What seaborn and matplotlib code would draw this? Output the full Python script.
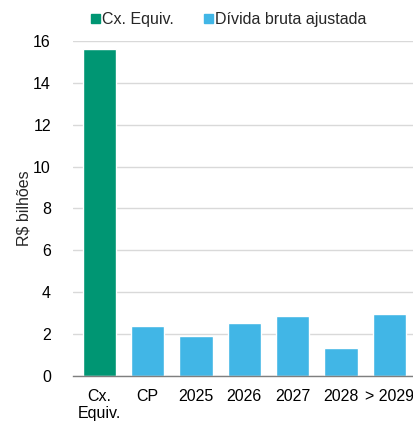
import pandas as pd
import matplotlib.pyplot as plt
import seaborn as sns
from matplotlib.patches import Patch

categories = ['Cx.\nEquiv.', 'CP', '2025', '2026', '2027', '2028', '> 2029']
values = [15.6, 2.37, 1.92, 2.53, 2.86, 1.33, 2.95]
groups = ['Cx. Equiv.', 'Dívida bruta ajustada', 'Dívida bruta ajustada',
          'Dívida bruta ajustada', 'Dívida bruta ajustada',
          'Dívida bruta ajustada', 'Dívida bruta ajustada']
yticks = [0, 2, 4, 6, 8, 10, 12, 14, 16]

palette = {'Cx. Equiv.': '#009673', 'Dívida bruta ajustada': '#41B6E6'}

df = pd.DataFrame({'cat': categories, 'val': values, 'grp': groups})

sns.set_style('white')
plt.rcParams['font.family'] = ['Liberation Sans', 'DejaVu Sans']

fig = plt.figure(figsize=(4.13, 4.22), dpi=100)
ax = fig.add_axes([0.177, 0.109, 0.823, 0.794])

sns.barplot(data=df, x='cat', y='val', hue='grp', palette=palette,
            dodge=False, width=0.69, saturation=1, legend=False, ax=ax)

ax.set_ylim(0, 16)
ax.set_yticks(yticks)
ax.yaxis.grid(True, color='#d9d9d9', linewidth=1)
ax.set_axisbelow(True)
for s in ['top', 'right', 'left']:
    ax.spines[s].set_visible(False)
ax.spines['bottom'].set_color('#7f7f7f')
ax.spines['bottom'].set_linewidth(1)
ax.tick_params(axis='y', length=0, labelsize=11.5, colors='black', pad=16)
ax.tick_params(axis='x', length=0, labelsize=11.5, colors='black', pad=9)
ax.set_xlabel('')
ax.set_ylabel('R$ bilhões', fontsize=11.5, labelpad=1)
ax.set_xlim(-0.54, 6.49)

handles = [Patch(color=palette[k], label=k) for k in palette]
fig.legend(handles=handles, loc='upper left', bbox_to_anchor=(0.185, 1.005),
           ncol=2, frameon=False, fontsize=11.5, handlelength=0.55,
           handleheight=0.55, handletextpad=0.15, columnspacing=1.9)

fig.savefig('out.png', dpi=100)
